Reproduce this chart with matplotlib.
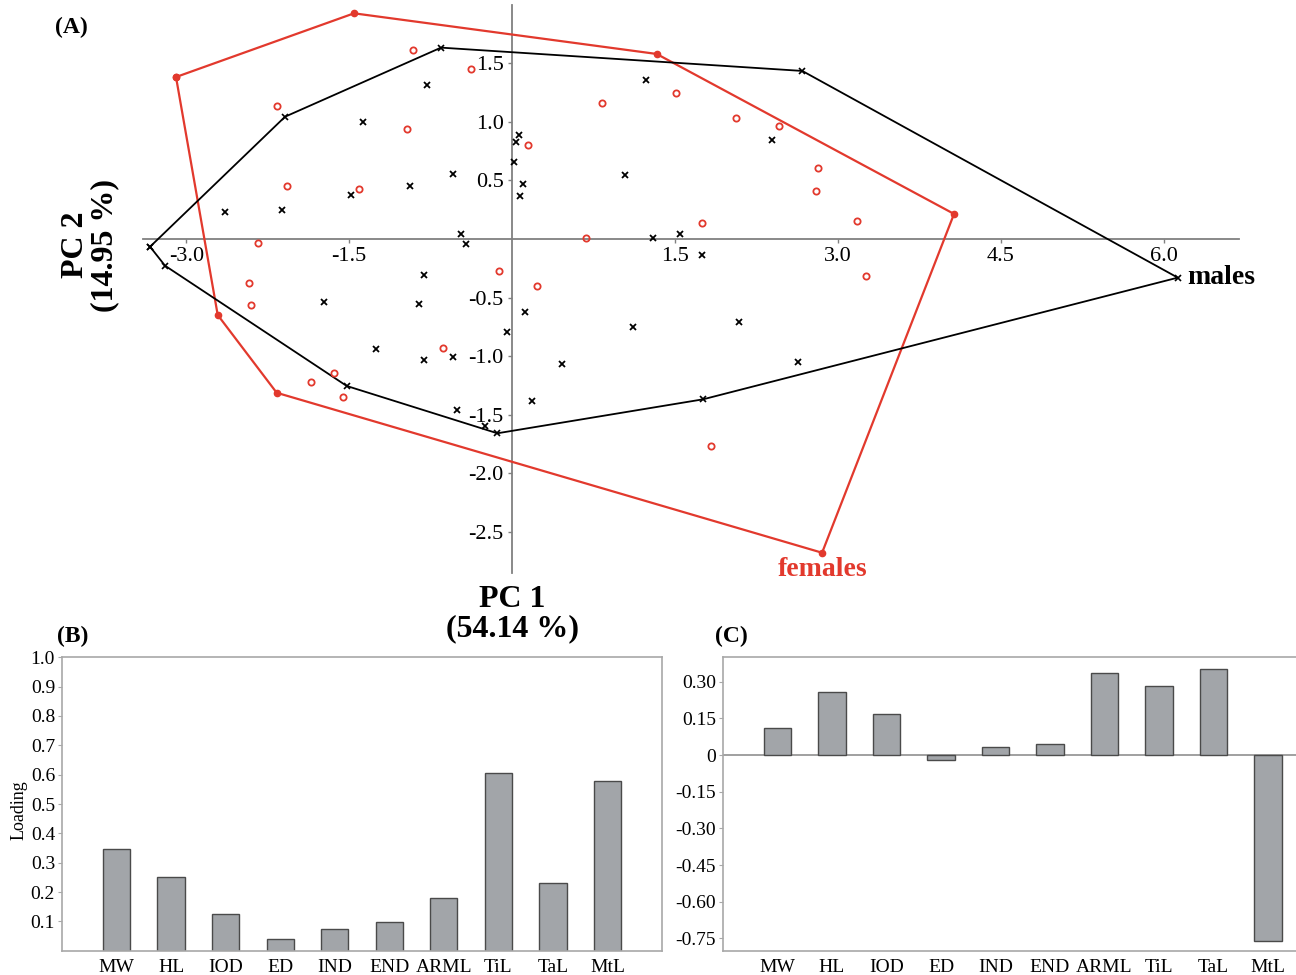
import matplotlib
matplotlib.use("Agg")
import matplotlib.pyplot as plt

plt.rcParams['font.family'] = ['Liberation Serif', 'DejaVu Serif']

W, H = 1296, 975
RED = '#e2392d'
GREY = '#808080'

# ---- PCA scores (panel A) ----
fem_x = [-0.91, -0.38, -2.16, -0.97, 0.15, -2.07, -1.41, -2.34, -0.12, -2.42, 0.23, -2.40, -0.64,
         -1.64, -1.85, -1.56, 1.51, 0.83, 2.06, 2.46, 2.82, 2.80, 1.75, 3.18, 0.68, 3.26, 1.83]
fem_y = [1.615, 1.45, 1.137, 0.943, 0.80, 0.456, 0.427, -0.034, -0.27, -0.38, -0.40, -0.56, -0.93,
         -1.145, -1.22, -1.35, 1.25, 1.16, 1.034, 0.963, 0.61, 0.41, 0.14, 0.156, 0.011, -0.32, -1.77]
fem_hull_x = [-3.094, -1.455, 1.332, 4.070, 2.855, -2.167, -2.710, -3.094]
fem_hull_y = [1.383, 1.927, 1.580, 0.214, -2.679, -1.313, -0.649, 1.383]

male_x = [-0.78, -1.37, 0.064, 0.034, 0.018, -0.54, 0.098, -0.94, 0.077, -1.48, -2.64, -2.12, -0.47,
          -0.42, -0.81, -1.73, -0.86, 0.12, -0.05, -1.25, -0.545, -0.81, 0.18, -0.51, -0.25, 1.23,
          2.39, 1.04, 1.30, 1.55, 1.75, 1.11, 2.09, 0.46, 2.63]
male_y = [1.316, 1.0, 0.89, 0.826, 0.655, 0.556, 0.467, 0.453, 0.367, 0.373, 0.228, 0.245, 0.043,
          -0.043, -0.305, -0.54, -0.553, -0.62, -0.79, -0.94, -1.01, -1.03, -1.38, -1.46, -1.60, 1.36,
          0.843, 0.55, 0.006, 0.04, -0.134, -0.755, -0.71, -1.066, -1.05]
male_hull_x = [-3.333, -3.195, -1.522, -0.135, 1.759, 6.130, 2.673, -0.654, -2.090, -3.333]
male_hull_y = [-0.066, -0.228, -1.255, -1.659, -1.369, -0.330, 1.435, 1.634, 1.044, -0.066]

pc_xticks = [-3.0, -1.5, 1.5, 3.0, 4.5, 6.0]
pc_yticks = [1.5, 1.0, 0.5, -0.5, -1.0, -1.5, -2.0, -2.5]

# ---- loadings (panels B, C) ----
traits = ['MW', 'HL', 'IOD', 'ED', 'IND', 'END', 'ARML', 'TiL', 'TaL', 'MtL']
load_pc1 = [0.345, 0.25, 0.125, 0.04, 0.075, 0.097, 0.18, 0.605, 0.231, 0.58]
load_pc2 = [0.11, 0.26, 0.17, -0.02, 0.034, 0.044, 0.334, 0.282, 0.352, -0.76]
b_ticks = [0.1, 0.2, 0.3, 0.4, 0.5, 0.6, 0.7, 0.8, 0.9, 1.0]
c_ticks = [0.30, 0.15, 0, -0.15, -0.30, -0.45, -0.60, -0.75]
c_labels = ['0.30', '0.15', '0', '-0.15', '-0.30', '-0.45', '-0.60', '-0.75']


def fx(px):
    return px / W


def fy(py):
    return 1 - py / H


fig = plt.figure(figsize=(12.96, 9.75), dpi=100)

# ================= (A) =================
ax = fig.add_axes([fx(143), fy(573), (1239 - 143) / W, (573 - 5) / H])
ax.set_xlim(-3.398, 6.694)
ax.set_ylim(-2.852, 1.998)
for s in ['top', 'right']:
    ax.spines[s].set_visible(False)
for s in ['left', 'bottom']:
    ax.spines[s].set_position(('data', 0))
    ax.spines[s].set_color(GREY)
    ax.spines[s].set_linewidth(1.3)
ax.set_xticks(pc_xticks)
ax.set_xticklabels(['%.1f' % v for v in pc_xticks])
ax.set_yticks(pc_yticks)
ax.set_yticklabels(['%.1f' % v for v in pc_yticks])
ax.tick_params(direction='out', length=3, width=1, color=GREY, labelsize=16, pad=3)
ax.patch.set_alpha(0)

ax.plot(fem_hull_x, fem_hull_y, color=RED, lw=1.6, zorder=3)
ax.plot(fem_hull_x, fem_hull_y, 'o', color=RED, ms=4.5, zorder=4)
ax.plot(male_hull_x, male_hull_y, color='black', lw=1.3, zorder=3)
ax.plot(male_hull_x, male_hull_y, 'x', color='black', ms=5, mew=1.2, zorder=4)
ax.plot(fem_x, fem_y, 'o', mfc='none', mec=RED, ms=4.5, mew=1.3, zorder=4)
ax.plot(male_x, male_y, 'x', color='black', ms=5, mew=1.3, zorder=4)

fig.text(fx(55), fy(27), '(A)', fontsize=17, fontweight='bold', va='center')
fig.text(fx(90), fy(245), 'PC 2\n(14.95 %)', fontsize=23, fontweight='bold',
         rotation=90, ha='center', va='center', multialignment='center', linespacing=1.0)
fig.text(fx(512), fy(614), 'PC 1\n(54.14 %)', fontsize=23, fontweight='bold',
         ha='center', va='center', multialignment='center', linespacing=1.0)
fig.text(fx(1187), fy(277), 'males', fontsize=20, fontweight='bold', va='center')
fig.text(fx(823), fy(570), 'females', fontsize=20, fontweight='bold', color=RED,
         ha='center', va='center')

BAR = '#a2a5a9'
EDGE = '#4a4a4a'
FRAME = '#a8a8a8'

# ================= (B) =================
axb = fig.add_axes([fx(62), fy(950.7), 600 / W, 293.4 / H])
axb.bar(range(len(traits)), load_pc1, width=0.5, color=BAR, edgecolor=EDGE, lw=1)
axb.set_xlim(-1, 10)
axb.set_ylim(0, 1.0)
axb.set_xticks(range(len(traits)))
axb.set_xticklabels(traits)
axb.set_yticks(b_ticks)
axb.set_yticklabels(['%.1f' % v for v in b_ticks])
axb.tick_params(axis='x', length=0, labelsize=14, pad=6)
axb.tick_params(axis='y', length=3, color=FRAME, labelsize=14, pad=2)
for s in axb.spines.values():
    s.set_color(FRAME)
    s.set_linewidth(1.2)
axb.set_ylabel('Loading', fontsize=13)
axb.yaxis.set_label_coords(-0.058, 0.48)
fig.text(fx(57), fy(636), '(B)', fontsize=17, fontweight='bold', va='center')

# ================= (C) =================
axc = fig.add_axes([fx(723), fy(950.7), 599.5 / W, 293.4 / H])
axc.bar(range(len(traits)), load_pc2, width=0.5, color=BAR, edgecolor=EDGE, lw=1, zorder=3)
axc.axhline(0, color='#909090', lw=1.2, zorder=2)
axc.set_xlim(-1, 10)
axc.set_ylim(-0.80, 0.40)
axc.set_xticks(range(len(traits)))
axc.set_xticklabels(traits)
axc.set_yticks(c_ticks)
axc.set_yticklabels(c_labels)
axc.tick_params(axis='x', length=0, labelsize=14, pad=6)
axc.tick_params(axis='y', length=3, color=FRAME, labelsize=14, pad=2)
for s in axc.spines.values():
    s.set_color(FRAME)
    s.set_linewidth(1.2)
fig.text(fx(715), fy(636), '(C)', fontsize=17, fontweight='bold', va='center')

fig.savefig('out.png', dpi=100)
